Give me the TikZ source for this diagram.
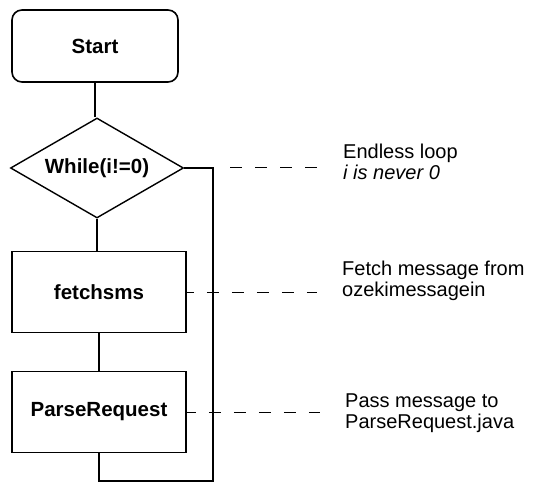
\documentclass[tikz,border=0pt]{standalone}
\usepackage{fontspec}
\setmainfont{Liberation Sans}
\usetikzlibrary{shapes.geometric}
\begin{document}
\begin{tikzpicture}[x=1pt,y=-1pt,
  flow/.style={line width=1.8pt},
  stepbox/.style={draw, line width=1.6pt, rectangle, inner sep=0pt,
    font=\fontsize{20.5}{24}\selectfont\bfseries},
  test/.style={draw, line width=1.4pt, diamond, inner sep=0pt,
    font=\fontsize{20.5}{24}\selectfont\bfseries},
  note/.style={line width=1pt, dash pattern=on 12pt off 13pt},
  notetext/.style={anchor=west, align=left, inner sep=0pt,
    font=\fontsize{20}{21.5}\selectfont}]
\useasboundingbox (0,0) rectangle (534,486);

% flowchart steps
\node[stepbox, rounded corners=10pt, minimum width=166pt, minimum height=72pt] (S) at (95,46) {Start};
\node[test, minimum width=173pt, minimum height=100pt, aspect=1.73] (D) at (97,168) {While(i!=0)};
\node[stepbox, minimum width=174pt, minimum height=81pt] (F) at (99,292) {fetchsms};
\node[stepbox, minimum width=174pt, minimum height=81pt] (P) at (99,412) {ParseRequest};

% sequence lines
\draw[flow] (S.south) -- (S.south |- D.north);
\draw[flow] (D.south) -- (D.south |- F.north);
\draw[flow] (F.south) -- (F.south |- P.north);

% loop back to the condition
\coordinate (L) at (213,168);
\coordinate (Lb) at (213,481);
\draw[flow] (D.east) -- (L) -- (Lb) -| (P.south);

% annotations
\node[notetext] (T1) at (343,162) {Endless loop\\\textit{i is never 0}};
\node[notetext] (T2) at (342,281) {Fetch message from\\ozekimessagein};
\node[notetext] (T3) at (345,413) {Pass message to\\ParseRequest.java};

\coordinate (E1) at (317,168);
\coordinate (E2) at (317,292);
\coordinate (E3) at (320,412);
\draw[note, dash phase=12pt] ([xshift=4pt]L) -- (E1);
\draw[note, dash phase=5pt] (F.east) -- (E2);
\draw[note, dash phase=3pt] (P.east) -- (E3);
\end{tikzpicture}
\end{document}
